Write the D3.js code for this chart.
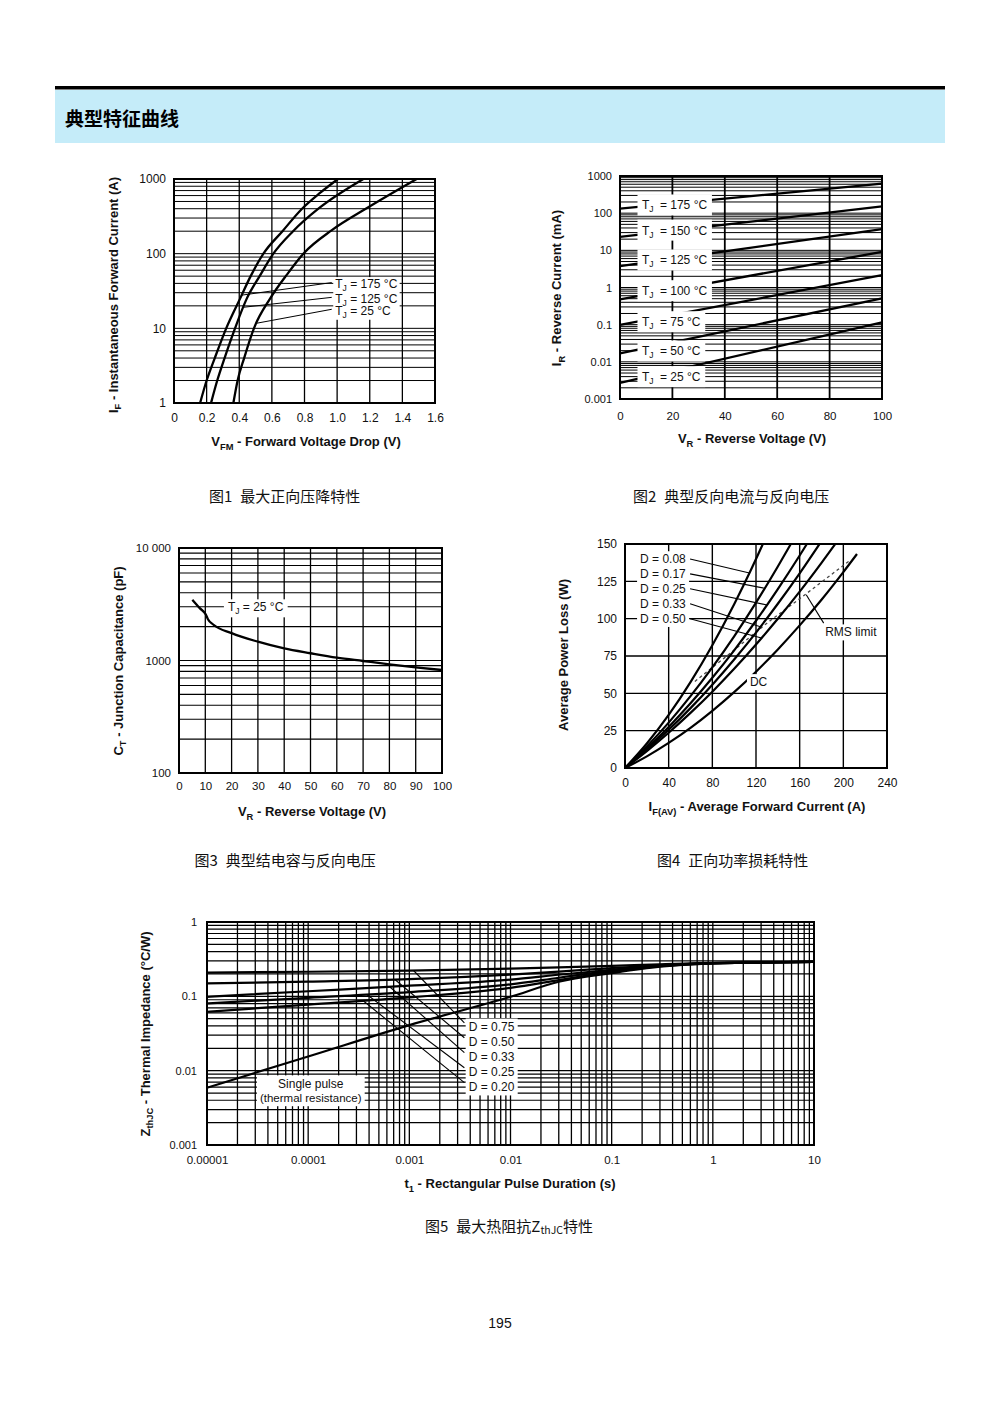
<!DOCTYPE html>
<html><head><meta charset="utf-8">
<script src="https://cdn.jsdelivr.net/npm/d3@7/dist/d3.min.js"></script>
<style>html,body{margin:0;padding:0;background:#fff;}</style>
</head><body>
<svg id="page" width="1000" height="1414" xmlns="http://www.w3.org/2000/svg"></svg>
<script>
// ================= DATA =================
const pageTitle = "典型特征曲线";
const captionTexts = [["图1","最大正向压降特性"],["图2","典型反向电流与反向电压"],["图3","典型结电容与反向电压"],["图4","正向功率损耗特性"]];
const caption5 = ["图5","最大热阻抗Z","thJC","特性"];
const pageNumber = "195";

// Figure 1 – forward voltage drop
const f1XTicks = [0,0.2,0.4,0.6,0.8,1.0,1.2,1.4,1.6];
const f1XLabels = ["0","0.2","0.4","0.6","0.8","1.0","1.2","1.4","1.6"];
const f1YTicks = [1,10,100,1000];
const f1YLabels = ["1","10","100","1000"];
const f1Names = ["175 °C","125 °C","25 °C"];
const f1Tj175 = [[0.16,1],[0.20,2],[0.25,4],[0.32,10],[0.405,25],[0.47,50],[0.548,100],[0.665,200],[0.785,400],[0.895,650],[1.005,1000]];
const f1Tj125 = [[0.227,1],[0.265,2],[0.31,4],[0.374,10],[0.446,25],[0.525,50],[0.609,100],[0.73,200],[0.885,400],[1.161,1000]];
const f1Tj25  = [[0.364,1],[0.39,2],[0.43,4],[0.49,10],[0.589,25],[0.691,52],[0.793,100],[0.97,208],[1.181,405],[1.488,1000]];
const f1LabelAnchor = [[0.967,41],[0.967,26],[0.967,18]];
const f1LeaderEndV = [0.415,0.425,0.507];

// Figure 2 – reverse current
const f2XTicks = [0,20,40,60,80,100];
const f2XLabels = ["0","20","40","60","80","100"];
const f2YTicks = [0.001,0.01,0.1,1,10,100,1000];
const f2YLabels = ["0.001","0.01","0.1","1","10","100","1000"];
const f2Temps = ["175","150","125","100","75","50","25"];
const f2At0V   = [133,23,3.77,0.48,0.098,0.017,0.0027];
const f2At100V = [622,153,37,9.1,2.16,0.51,0.116];
const f2LabelLevel = [166,35,5.5,0.82,0.12,0.0196,0.004];
const f2LabelV = 8.4;

// Figure 3 – junction capacitance
const f3XTicks = [0,10,20,30,40,50,60,70,80,90,100];
const f3XLabels = ["0","10","20","30","40","50","60","70","80","90","100"];
const f3YTicks = [100,1000,10000];
const f3YLabels = ["100","1000","10 000"];
const f3V = [5.1,7.9,10.2,11,13,20,30,40,50,60,70,80,90,100];
const f3C = [3460,2920,2560,2330,2090,1750,1470,1280,1160,1060,990,925,870,823];
const f3LabelAt = [18.6,3000];

// Figure 4 – average power loss
const f4XTicks = [0,40,80,120,160,200,240];
const f4XLabels = ["0","40","80","120","160","200","240"];
const f4YTicks = [0,25,50,75,100,125,150];
const f4YLabels = ["0","25","50","75","100","125","150"];
const f4Names = ["D = 0.08","D = 0.17","D = 0.25","D = 0.33","D = 0.50"];
const f4D008 = [[0,0],[20,16.4],[40,35.5],[60,57.5],[80,82.2],[100,109.7],[115,132.1],[126.3,150]];
const f4D017 = [[0,0],[20,14.4],[40,30.4],[60,48.1],[80,67.4],[100,88.2],[120,110.7],[140,134.9],[151.9,150]];
const f4D025 = [[0,0],[20,13.1],[40,27.5],[60,43.3],[80,60.4],[100,78.8],[120,98.6],[140,119.8],[160,142.3],[166.6,150]];
const f4D033 = [[0,0],[20,12.2],[40,25.6],[60,40.1],[80,55.8],[100,72.7],[120,90.7],[140,110.0],[160,130.4],[178.2,150]];
const f4D050 = [[0,0],[20,11.3],[40,23.6],[60,36.9],[80,51.1],[100,66.4],[120,82.7],[140,99.9],[160,118.1],[180,137.4],[192.6,150]];
const f4DC   = [[0,0],[20,7.8],[40,16.8],[60,26.9],[80,38.3],[100,50.8],[120,64.5],[140,79.4],[160,95.5],[180,112.7],[200,131.2],[212.5,143.3]];
const f4LabelLevel = [140,130,120,110,100];
const f4LabelI = 13.8;
const f4LeaderStartI = 59.6;
const f4LeaderEndI = [114,128,130,124,125];
const f4RmsLimit = [[64,58],[95,76],[130,97],[163,115],[206,139]];
const f4RmsLeader = [[182,97],[166,116]];
const f4RmsLabel = [183.4,91];
const f4DcLabel = [122.4,57.7];

// Figure 5 – transient thermal impedance
const f5XTicks = [1e-5,1e-4,1e-3,1e-2,1e-1,1,10];
const f5XLabels = ["0.00001","0.0001","0.001","0.01","0.1","1","10"];
const f5YTicks = [0.001,0.01,0.1,1];
const f5YLabels = ["0.001","0.01","0.1","1"];
const f5T    = [1e-5,1e-4,1e-3,1e-2,0.03,0.1,0.3,1,10];
const f5D075 = [0.209,0.214,0.222,0.236,0.245,0.257,0.27,0.282,0.29];
const f5D050 = [0.149,0.158,0.170,0.196,0.215,0.24,0.262,0.28,0.29];
const f5D033 = [0.0986,0.117,0.139,0.168,0.195,0.228,0.258,0.279,0.29];
const f5D025 = [0.0804,0.0955,0.114,0.145,0.178,0.222,0.256,0.279,0.29];
const f5D020 = [0.062,0.0773,0.0966,0.13,0.165,0.215,0.254,0.278,0.29];
const f5Single = [0.0059,0.0155,0.041,0.0986,0.157,0.205,0.25,0.277,0.29];
const f5Names = ["D = 0.75","D = 0.50","D = 0.33","D = 0.25","D = 0.20"];
const f5LabelLevel = [0.039,0.0245,0.01545,0.0097,0.0061];
const f5LabelT = 0.00386;
const f5LeaderStartT = 0.0035;
const f5LeaderEndT = [0.0011,0.00072,0.00064,0.00038,0.00035];
const f5SingleLines = ["Single pulse","(thermal resistance)"];
const f5SingleAt = [1.06e-4,0.0066,0.0043];

// ================= DRAWING =================
const svg = d3.select("#page");
const INK = "#000";
const FONT = "'Liberation Sans', Arial, Helvetica, sans-serif";
const CJK = "'Noto Sans CJK SC', 'Noto Sans CJK JP', sans-serif";

function rich(t, parts, subSize, subDy){
  let shift = 0;
  parts.forEach(p=>{
    const isSub = Array.isArray(p);
    const ts = t.append("tspan").text(isSub?p[0]:p);
    const target = isSub ? (subDy||3) : 0;
    if (target-shift) ts.attr("dy", target-shift);
    if (isSub) ts.attr("font-size", subSize);
    if (!isSub && p.dx) ts.attr("dx", p.dx);
    shift = target;
  });
  return t;
}
function vLines(g, x, vals, box, w){
  g.append("g").selectAll("line").data(vals).join("line")
    .attr("x1",d=>x(d)).attr("x2",d=>x(d)).attr("y1",box.t).attr("y2",box.b)
    .attr("stroke",INK).attr("stroke-width",w);
}
function hLines(g, y, vals, box, w){
  g.append("g").selectAll("line").data(vals).join("line")
    .attr("y1",d=>y(d)).attr("y2",d=>y(d)).attr("x1",box.l).attr("x2",box.r)
    .attr("stroke",INK).attr("stroke-width",w);
}
function frame(box, w){
  svg.append("rect").attr("x",box.l).attr("y",box.t).attr("width",box.r-box.l).attr("height",box.b-box.t)
    .attr("fill","none").attr("stroke",INK).attr("stroke-width",w);
}
function series(g, pts, x, y, w){
  g.append("path").datum(pts)
    .attr("d", d3.line().x(d=>x(d[0])).y(d=>y(d[1])).curve(d3.curveMonotoneX))
    .attr("fill","none").attr("stroke",INK).attr("stroke-width",w).attr("stroke-linejoin","round");
}
function pyAt(pts, x, y, xv){
  const px = x(xv);
  for (let i=0;i<pts.length-1;i++){
    const a = x(pts[i][0]), b = x(pts[i+1][0]);
    if (px>=a && px<=b){
      const t=(px-a)/(b-a);
      return y(pts[i][1]) + t*(y(pts[i+1][1])-y(pts[i][1]));
    }
  }
  return y(pts[pts.length-1][1]);
}
function leader(g, x1,y1,x2,y2,w){
  g.append("line").attr("x1",x1).attr("y1",y1).attr("x2",x2).attr("y2",y2)
    .attr("stroke",INK).attr("stroke-width",w||1);
}
function axisB(scale, vals, labels, box, pad, fs){
  const a = svg.append("g").attr("transform",`translate(0,${box.b})`)
    .call(d3.axisBottom(scale).tickValues(vals).tickFormat((d,i)=>labels[i]).tickSize(0).tickPadding(pad));
  a.select(".domain").remove();
  a.selectAll("text").attr("font-family",FONT).attr("font-size",fs).attr("fill","#111");
}
function axisL(scale, vals, labels, box, pad, fs){
  const a = svg.append("g").attr("transform",`translate(${box.l},0)`)
    .call(d3.axisLeft(scale).tickValues(vals).tickFormat((d,i)=>labels[i]).tickSize(0).tickPadding(pad));
  a.select(".domain").remove();
  a.selectAll("text").attr("font-family",FONT).attr("font-size",fs).attr("fill","#111");
}
function xTitle(cx, by, parts, fs){
  const t = svg.append("text").attr("x",cx).attr("y",by).attr("text-anchor","middle")
    .attr("font-family",FONT).attr("font-weight","bold").attr("font-size",fs||13).attr("fill","#111");
  rich(t, parts, (fs||13)*0.72, 3.5);
}
function yTitle(cx, cy, parts, fs){
  const t = svg.append("text").attr("transform",`translate(${cx},${cy}) rotate(-90)`).attr("text-anchor","middle")
    .attr("font-family",FONT).attr("font-weight","bold").attr("font-size",fs||13).attr("fill","#111");
  rich(t, parts, (fs||13)*0.72, 3.5);
}
function annText(g, xp, yp, parts, anchor){
  const t = g.append("text").attr("x",xp).attr("y",yp).attr("font-family",FONT).attr("font-size",12)
    .attr("fill","#111").attr("text-anchor",anchor||"start");
  rich(t, parts, 8.5, 3);
  return t;
}
function whiteBehind(lg, tg, px, py){
  const bb = tg.node().getBBox();
  lg.insert("rect",":first-child").attr("x",bb.x-px).attr("y",bb.y-py)
    .attr("width",bb.width+2*px).attr("height",bb.height+2*py).attr("fill","#fff");
}

// ---------- header ----------
svg.append("rect").attr("x",55).attr("y",90).attr("width",890).attr("height",53).attr("fill","#c5ecf9");
svg.append("rect").attr("x",55).attr("y",86).attr("width",890).attr("height",3.5).attr("fill","#000");
svg.append("text").attr("x",65).attr("y",125.5).attr("font-family",CJK).attr("font-weight",700)
  .attr("font-size",19).attr("fill","#000").text(pageTitle);

// ---------- Figure 1 ----------
(function(){
  const box = {l:174,r:435,t:179,b:403};
  const x = d3.scaleLinear().domain([0,1.6]).range([box.l,box.r]);
  const y = d3.scaleLog().domain([1,1000]).range([box.b,box.t]);
  const g = svg.append("g");
  vLines(g, x, f1XTicks.slice(1,-1), box, 1.3);
  hLines(g, y, y.ticks(), box, 1);
  const ser = [f1Tj175,f1Tj125,f1Tj25];
  ser.forEach(s=>series(g,s,x,y,2.3));
  const lg = g.append("g"), tg = lg.append("g");
  f1Names.forEach((n,i)=>annText(tg, x(f1LabelAnchor[i][0])+3.5, y(f1LabelAnchor[i][1])+5.5, ["T",["J"]," = "+n]));
  whiteBehind(lg, tg, 2, 0);
  f1LeaderEndV.forEach((v,i)=>leader(g, x(f1LabelAnchor[i][0]), y(f1LabelAnchor[i][1]), x(v), pyAt(ser[i],x,y,v), 1));
  frame(box,2);
  axisB(x, f1XTicks, f1XLabels, box, 10, 12);
  axisL(y, f1YTicks, f1YLabels, box, 8, 12);
  xTitle(306, 446, ["V",["FM"]," - Forward Voltage Drop (V)"]);
  yTitle(117.5, 295, ["I",["F"]," - Instantaneous Forward Current (A)"]);
})();

// ---------- Figure 2 ----------
(function(){
  const box = {l:620,r:882,t:176,b:399};
  const x = d3.scaleLinear().domain([0,100]).range([box.l,box.r]);
  const y = d3.scaleLog().domain([0.001,1000]).range([box.b,box.t]);
  const g = svg.append("g");
  hLines(g, y, y.ticks(), box, 1);
  vLines(g, x, f2XTicks.slice(1,-1), box, 1.8);
  f2Temps.forEach((t,i)=>series(g, [[0,f2At0V[i]],[100,f2At100V[i]]], x, y, 2.3));
  f2Temps.forEach((t,i)=>{
    const lg = g.append("g"), tg = lg.append("g");
    const yc = y(f2LabelLevel[i]);
    annText(tg, x(f2LabelV), yc+4.5, ["T",["J"],Object.assign(new String("  = "+t+" °C"),{dx:3})]);
    const bb = tg.node().getBBox();
    lg.insert("rect",":first-child").attr("x",bb.x-4.5).attr("y",yc-10.5).attr("width",bb.width+9).attr("height",21).attr("fill","#fff");
  });
  frame(box,2);
  axisB(x, f2XTicks, f2XLabels, box, 13, 11.5);
  axisL(y, f2YTicks, f2YLabels, box, 8, 11);
  xTitle(752, 443, ["V",["R"]," - Reverse Voltage (V)"]);
  yTitle(561, 288, ["I",["R"]," - Reverse Current (mA)"]);
})();

// ---------- Figure 3 ----------
(function(){
  const box = {l:179,r:442,t:548,b:773};
  const x = d3.scaleLinear().domain([0,100]).range([box.l,box.r]);
  const y = d3.scaleLog().domain([100,10000]).range([box.b,box.t]);
  const g = svg.append("g");
  vLines(g, x, f3XTicks.slice(1,-1), box, 1.3);
  hLines(g, y, y.ticks(), box, 1.1);
  series(g, f3V.map((v,i)=>[v,f3C[i]]), x, y, 2.3);
  const lg = g.append("g"), tg = lg.append("g");
  annText(tg, x(f3LabelAt[0]), y(f3LabelAt[1])+4.5, ["T",["J"]," = 25 °C"]);
  whiteBehind(lg, tg, 4, 1);
  frame(box,2);
  axisB(x, f3XTicks, f3XLabels, box, 9, 11.5);
  axisL(y, f3YTicks, f3YLabels, box, 8, 11.5);
  xTitle(312, 816, ["V",["R"]," - Reverse Voltage (V)"]);
  yTitle(122.5, 661, ["C",["T"]," - Junction Capacitance (pF)"]);
})();

// ---------- Figure 4 ----------
(function(){
  const box = {l:625,r:887,t:544,b:768};
  const x = d3.scaleLinear().domain([0,240]).range([box.l,box.r]);
  const y = d3.scaleLinear().domain([0,150]).range([box.b,box.t]);
  const g = svg.append("g");
  vLines(g, x, f4XTicks.slice(1,-1), box, 1.4);
  hLines(g, y, f4YTicks.slice(1,-1), box, 1.4);
  const ser = [f4D008,f4D017,f4D025,f4D033,f4D050];
  g.append("path").datum(f4RmsLimit)
    .attr("d", d3.line().x(d=>x(d[0])).y(d=>y(d[1])))
    .attr("fill","none").attr("stroke","#444").attr("stroke-width",1.3).attr("stroke-dasharray","3,3");
  ser.concat([f4DC]).forEach(s=>series(g,s,x,y,2.2));
  const lg = g.append("g"), tg = lg.append("g");
  f4Names.forEach((n,i)=>annText(tg, x(f4LabelI), y(f4LabelLevel[i])+4.3, [n]));
  whiteBehind(lg, tg, 3, 1);
  f4Names.forEach((n,i)=>leader(g, x(f4LeaderStartI), y(f4LabelLevel[i]), x(f4LeaderEndI[i]), pyAt(ser[i],x,y,f4LeaderEndI[i]), 1.1));
  const rg = g.append("g"), rtg = rg.append("g");
  annText(rtg, x(f4RmsLabel[0]), y(f4RmsLabel[1])+4.3, ["RMS limit"]);
  whiteBehind(rg, rtg, 2, 1);
  leader(g, x(f4RmsLeader[0][0]), y(f4RmsLeader[0][1]), x(f4RmsLeader[1][0]), y(f4RmsLeader[1][1]), 1.1);
  const dg = g.append("g"), dtg = dg.append("g");
  annText(dtg, x(f4DcLabel[0]), y(f4DcLabel[1])+4.3, ["DC"], "middle");
  whiteBehind(dg, dtg, 3, 1);
  frame(box,2);
  axisB(x, f4XTicks, f4XLabels, box, 10, 12);
  axisL(y, f4YTicks, f4YLabels, box, 8, 12);
  xTitle(757, 811, ["I",["F(AV)"]," - Average Forward Current (A)"]);
  yTitle(567.5, 655, ["Average Power Loss (W)"]);
})();

// ---------- Figure 5 ----------
(function(){
  const box = {l:207,r:814,t:922,b:1145};
  const x = d3.scaleLog().domain([1e-5,10]).range([box.l,box.r]);
  const y = d3.scaleLog().domain([0.001,1]).range([box.b,box.t]);
  const g = svg.append("g");
  vLines(g, x, x.ticks(), box, 1.3);
  hLines(g, y, y.ticks(), box, 1.2);
  const ser = [f5D075,f5D050,f5D033,f5D025,f5D020].map(v=>f5T.map((t,i)=>[t,v[i]]));
  ser.concat([f5T.map((t,i)=>[t,f5Single[i]])]).forEach(s=>series(g,s,x,y,2.2));
  const lg = g.append("g"), tg = lg.append("g");
  f5Names.forEach((n,i)=>annText(tg, x(f5LabelT), y(f5LabelLevel[i])+4.3, [n]));
  whiteBehind(lg, tg, 3, 1.5);
  f5Names.forEach((n,i)=>leader(g, x(f5LeaderStartT), y(f5LabelLevel[i]*1.13), x(f5LeaderEndT[i]), pyAt(ser[i],x,y,f5LeaderEndT[i]), 1.1));
  const sg = g.append("g"), stg = sg.append("g");
  annText(stg, x(f5SingleAt[0]), y(f5SingleAt[1])+4.3, [f5SingleLines[0]], "middle");
  annText(stg, x(f5SingleAt[0]), y(f5SingleAt[2])+4.3, [f5SingleLines[1]], "middle").attr("font-size",11.5);
  whiteBehind(sg, stg, 3, 2);
  frame(box,2);
  axisB(x, f5XTicks, f5XLabels, box, 10.5, 11.5);
  axisL(y, f5YTicks, f5YLabels, box, 10, 11);
  xTitle(510, 1188, ["t",["1"]," - Rectangular Pulse Duration (s)"]);
  yTitle(149.5, 1034, ["Z",["thJC"]," - Thermal Impedance (°C/W)"]);
})();

// ---------- captions ----------
const capPos = [[209,501.7],[633,501.7],[194.5,865.7],[657,865.7]];
captionTexts.forEach((c,i)=>{
  const t = svg.append("text").attr("x",capPos[i][0]).attr("y",capPos[i][1]).attr("font-family",CJK).attr("font-size",15).attr("fill","#111");
  t.append("tspan").text(c[0]);
  t.append("tspan").attr("dx",8).text(c[1]);
});
(function(){
  const t = svg.append("text").attr("x",425).attr("y",1231.7).attr("font-family",CJK).attr("font-size",15).attr("fill","#111");
  t.append("tspan").text(caption5[0]);
  t.append("tspan").attr("dx",8).text(caption5[1]);
  t.append("tspan").attr("dy",2.5).attr("font-size",10.5).text(caption5[2]);
  t.append("tspan").attr("dy",-2.5).text(caption5[3]);
})();
svg.append("text").attr("x",500).attr("y",1327.5).attr("text-anchor","middle").attr("font-family",FONT)
  .attr("font-size",14).attr("fill","#111").text(pageNumber);
</script>
</body></html>
